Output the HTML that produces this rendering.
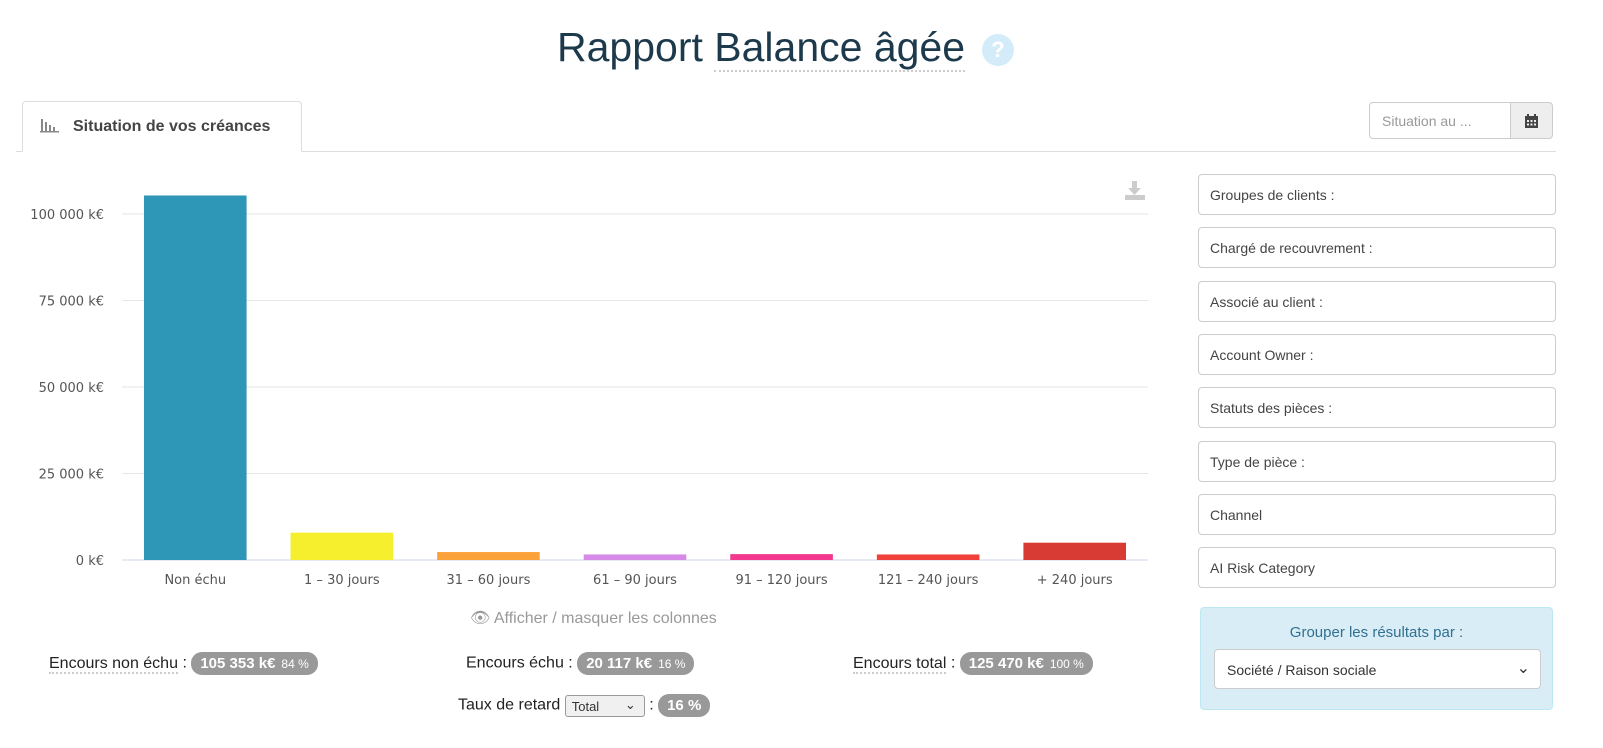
<!DOCTYPE html>
<html><head><meta charset="utf-8"><style>
*{box-sizing:border-box;margin:0;padding:0}
body{width:1603px;height:748px;background:#fff;font-family:"Liberation Sans",sans-serif;position:relative;overflow:hidden;color:#333}
.abs{position:absolute}
.filter{position:absolute;left:1198px;width:358px;height:41px;border:1px solid #ccc;border-radius:4px;font-size:14px;color:#444;padding:12px 0 0 11px;background:#fff}
.badge{display:inline-block;background:#999;color:#fff;border-radius:11px;padding:3px 9px;font-size:15px;font-weight:bold;vertical-align:middle}
.badge small{font-weight:normal;font-size:12px;margin-left:6px}
.lbl{font-size:16px;color:#222}
.dot{border-bottom:2px dotted #ccc}
</style></head><body>
<div class="abs" style="left:557px;top:24px;font-size:41px;color:#1d3a4c;white-space:nowrap">Rapport <span class="dot">Balance âgée</span></div>
<div class="abs" style="left:982px;top:34px;width:32px;height:32px;border-radius:50%;background:#d4ecf9;color:#fff;font-weight:bold;font-size:22px;text-align:center;line-height:32px">?</div>

<div class="abs" style="left:16px;top:151px;width:1540px;height:1px;background:#ddd"></div>
<div class="abs" style="left:22px;top:101px;width:280px;height:51px;border:1px solid #ddd;border-bottom:1px solid #fff;border-radius:4px 4px 0 0;background:#fff;font-size:16px;font-weight:bold;color:#444;padding:16px 0 0 50px">Situation de vos créances</div>
<svg class="abs" style="left:40px;top:117px" width="20" height="16"><g fill="#888"><rect x="1" y="2" width="2" height="12"/><rect x="5" y="5" width="2" height="9"/><rect x="9" y="8" width="2" height="6"/><rect x="13" y="10" width="2" height="4"/><rect x="0" y="14" width="19" height="1.5"/></g></svg>

<div class="abs" style="left:1369px;top:102px;width:142px;height:37px;border:1px solid #ccc;border-radius:4px 0 0 4px;font-size:14px;color:#999;padding:10px 0 0 12px">Situation au ...</div>
<div class="abs" style="left:1510px;top:102px;width:43px;height:37px;border:1px solid #ccc;border-radius:0 4px 4px 0;background:#eee">
<svg width="16" height="16" style="margin:10px 0 0 13px"><rect x="1" y="3" width="13" height="12" fill="#444"/><rect x="3" y="1" width="2" height="3" fill="#444"/><rect x="10" y="1" width="2" height="3" fill="#444"/><g fill="#eee"><rect x="3" y="7" width="2" height="2"/><rect x="6.5" y="7" width="2" height="2"/><rect x="10" y="7" width="2" height="2"/><rect x="3" y="10.5" width="2" height="2"/><rect x="6.5" y="10.5" width="2" height="2"/><rect x="10" y="10.5" width="2" height="2"/></g></svg></div>

<svg class="abs" style="left:0;top:160px" width="1170" height="440" id="chart"></svg>
<svg class="abs" style="left:1124px;top:180px" width="22" height="22"><g fill="#ccc"><rect x="8" y="1" width="5" height="8"/><polygon points="4,8 17,8 10.5,15"/><rect x="1" y="15" width="20" height="5"/></g></svg>

<div class="abs" style="left:470px;top:608px;font-size:16px;color:#999">&#128065;&#xFE0E; Afficher / masquer les colonnes</div>

<div class="abs" style="left:49px;top:652px;white-space:nowrap"><span class="lbl dot">Encours non échu</span> <span class="lbl">:</span> <span class="badge">105 353 k€<small>84 %</small></span></div>
<div class="abs" style="left:466px;top:652px;white-space:nowrap"><span class="lbl">Encours échu :</span> <span class="badge">20 117 k€<small>16 %</small></span></div>
<div class="abs" style="left:853px;top:652px;white-space:nowrap"><span class="lbl dot">Encours total</span> <span class="lbl">:</span> <span class="badge">125 470 k€<small>100 %</small></span></div>
<div class="abs" style="left:458px;top:694px;white-space:nowrap"><span class="lbl">Taux de retard</span> <span style="display:inline-block;width:80px;height:22px;border:1px solid #999;border-radius:3px;background:#f0f0f0;font-size:13px;padding:3px 0 0 6px;vertical-align:middle;position:relative">Total<span style="position:absolute;right:8px;top:1px">&#8964;</span></span> <span class="lbl">:</span> <span class="badge">16 %</span></div>

<div class="filter" style="top:174px">Groupes de clients :</div>
<div class="filter" style="top:227px">Chargé de recouvrement :</div>
<div class="filter" style="top:281px">Associé au client :</div>
<div class="filter" style="top:334px">Account Owner :</div>
<div class="filter" style="top:387px">Statuts des pièces :</div>
<div class="filter" style="top:441px">Type de pièce :</div>
<div class="filter" style="top:494px">Channel</div>
<div class="filter" style="top:547px">AI Risk Category</div>

<div class="abs" style="left:1200px;top:607px;width:353px;height:103px;background:#d9edf7;border:1px solid #bce8f1;border-radius:4px">
<div style="text-align:center;color:#31708f;font-size:15px;margin-top:16px">Grouper les résultats par :</div>
<div style="position:absolute;left:13px;top:41px;width:327px;height:40px;background:#fff;border:1px solid #ccc;border-radius:4px;font-size:14px;color:#333;padding:12px 0 0 12px">Société / Raison sociale<span style="position:absolute;right:10px;top:8px;font-size:16px">&#8964;</span></div>
</div>

<script>
const categories=["Non échu","1 - 30 jours","31 - 60 jours","61 - 90 jours","91 - 120 jours","121 - 240 jours","+ 240 jours"];
const values=[105353,7900,2300,1600,1700,1600,5000];
const colors=["#2e96b6","#f5ef2e","#fba23a","#d58ae8","#f4378f","#f0413a","#d83a34"];
const ticks=[0,25000,50000,75000,100000];
const tickLabels=["0 k€","25 000 k€","50 000 k€","75 000 k€","100 000 k€"];
(function(){
const svg=document.getElementById('chart');const NS="http://www.w3.org/2000/svg";
const top0=160,x0=122,x1=1148,base=560-top0;
const y=v=>base-v*346/100000;
const bw=(x1-x0)/categories.length;
function el(t,a){const e=document.createElementNS(NS,t);for(const k in a)e.setAttribute(k,a[k]);svg.appendChild(e);return e;}
ticks.forEach((t,i)=>{
 const g=el('line',{x1:x0,x2:x1,y1:y(t),y2:y(t),stroke:i?'#e6e6e6':'#ccd6eb','stroke-width':1});
 
 
 const tx=el('text',{x:104,y:y(t)+5,'text-anchor':'end','font-size':13,fill:'#555','font-family':'DejaVu Sans, sans-serif'});
 tx.textContent=tickLabels[i];
 
 
});
categories.forEach((c,i)=>{
 const cx=x0+bw*(i+0.5),w=bw*0.7;
 const r=el('rect',{x:cx-w/2,y:y(values[i]),width:w,height:base-y(values[i]),fill:colors[i]});
 
 
 const tx=el('text',{x:cx,y:base+24,'text-anchor':'middle','font-size':13,fill:'#555','font-family':'DejaVu Sans, sans-serif'});
 tx.textContent=c.replace(' - ',' – ');
 
 
});
})();
</script>
</body></html>
